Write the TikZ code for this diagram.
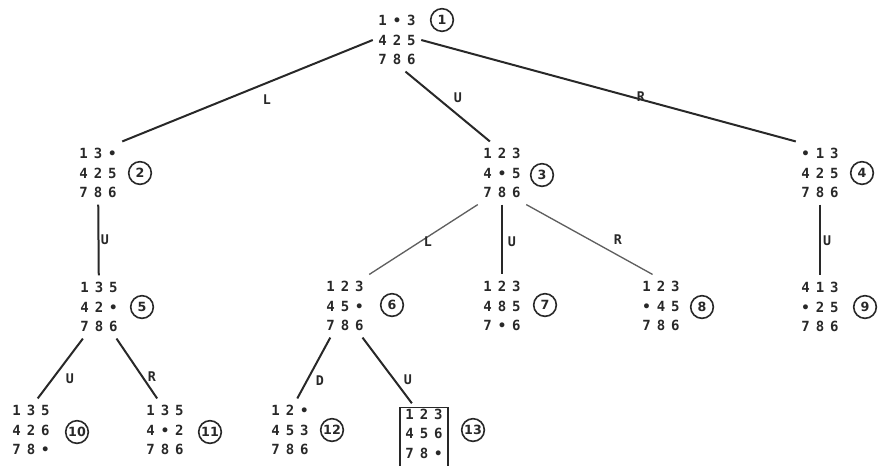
\documentclass[tikz,border=0pt]{standalone}
\usepackage{fontspec}
\setmonofont{DejaVu Sans Mono}
\setsansfont{DejaVu Sans}
\definecolor{ink}{RGB}{40,40,40}
\definecolor{lightink}{RGB}{95,95,95}
\newcommand{\boardrow}[3]{#1\kern4.5pt#2\kern4.5pt#3}
\tikzset{
  board/.style={font=\fontsize{10.5}{14.5}\selectfont\ttfamily\bfseries, text=ink,
    align=center, inner xsep=4pt, inner ysep=5pt},
  goalboard/.style={board, draw=ink, line width=1pt, inner ysep=1pt, inner xsep=4pt,
    text depth=9pt, anchor=north},
  numtag/.style={circle, draw=ink, line width=1.2pt, minimum size=17pt, inner sep=0pt,
    font=\fontsize{9.5}{9.5}\selectfont\sffamily\bfseries, text=ink},
  movelabel/.style={font=\fontsize{10}{10}\selectfont\ttfamily\bfseries, text=ink, inner sep=1pt},
  branch/.style={draw=ink, line width=1.5pt},
  faintbranch/.style={draw=lightink, line width=1pt}
}
\begin{document}
\begin{tikzpicture}[x=0.75pt, y=-0.75pt]
  \useasboundingbox (0,0) rectangle (884,465);
  % Puzzle states
  \foreach \nm/\px/\py/\txt in {
      p1/397/40/{\boardrow 1•3\\\boardrow 425\\\boardrow 786},
      p2/98/173/{\boardrow 13•\\\boardrow 425\\\boardrow 786},
      p3/502/173/{\boardrow 123\\\boardrow 4•5\\\boardrow 786},
      p4/820/173/{\boardrow •13\\\boardrow 425\\\boardrow 786},
      p5/99/307/{\boardrow 135\\\boardrow 42•\\\boardrow 786},
      p6/345/306/{\boardrow 123\\\boardrow 45•\\\boardrow 786},
      p7/502/306/{\boardrow 123\\\boardrow 485\\\boardrow 7•6},
      p8/661/306/{\boardrow 123\\\boardrow •45\\\boardrow 786},
      p9/820/307/{\boardrow 413\\\boardrow •25\\\boardrow 786},
      p10/31/430/{\boardrow 135\\\boardrow 426\\\boardrow 78•},
      p11/165/430/{\boardrow 135\\\boardrow 4•2\\\boardrow 786},
      p12/290/430/{\boardrow 12•\\\boardrow 453\\\boardrow 786}}
  { \node[board] (\nm) at (\px,\py) {\txt}; }
  % Goal state (boxed, runs off the page)
  \node[goalboard] (p13) at (424,407) {\boardrow 123\\\boardrow 456\\\boardrow 78•};
  % Order of expansion
  \foreach \k/\px/\py in {
      1/442/20, 2/140/173, 3/542/175, 4/862/173, 5/142/307,
      6/392/305, 7/545/305, 8/702/307, 9/865/307,
      10/77/432, 11/210/432, 12/332/430, 13/473/430}
  { \node[numtag] (c\k) at (\px,\py) {\k}; }
  % Moves
  \draw[branch] (p1.west) -- (p2.north east);
  \draw[branch] (p1.-75) -- (p3.111);
  \draw[branch] (p1.east) -- (p4.north west);
  \draw[branch] (p2) -- (p5);
  \draw[faintbranch] (p3.south west) -- (p6.north east);
  \draw[branch] (p3) -- (p7);
  \draw[faintbranch] (p3.south east) -- (p8.105);
  \draw[branch] (p4) -- (p9);
  \draw[branch] (p5.-117) -- (p10.78);
  \draw[branch] (p5.-61) -- (p11.104);
  \draw[branch] (p6.-115) -- (p12.77);
  \draw[branch, shorten >=3.5pt] (p6.-61) -- (p13.106);
  % Move labels
  \node[movelabel] (m2) at (267,100) {L};
  \node[movelabel] (m3) at (458,98) {U};
  \node[movelabel] (m4) at (641,97) {R};
  \node[movelabel] (m5) at (105,240) {U};
  \node[movelabel] (m6) at (428,242) {L};
  \node[movelabel] (m7) at (512,242) {U};
  \node[movelabel] (m8) at (618,240) {R};
  \node[movelabel] (m9) at (827,241) {U};
  \node[movelabel] (m10) at (70,379) {U};
  \node[movelabel] (m11) at (152,377) {R};
  \node[movelabel] (m12) at (320,381) {D};
  \node[movelabel] (m13) at (408,380) {U};
\end{tikzpicture}
\end{document}
